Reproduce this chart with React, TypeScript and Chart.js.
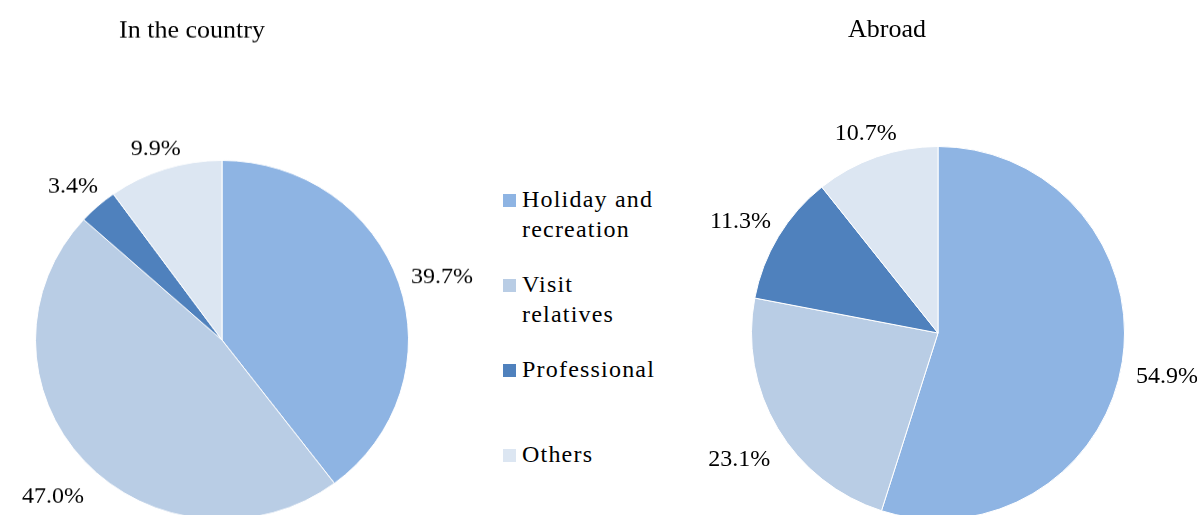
import React, { useEffect, useRef } from "react";
import { Chart, registerables } from "chart.js";

Chart.register(...registerables);

const categories = ["Holiday and recreation", "Visit relatives", "Professional", "Others"];
const countryValues = [39.7, 47.0, 3.4, 9.9];
const abroadValues = [54.9, 23.1, 11.3, 10.7];
const colors = ["#8EB4E3", "#B9CDE5", "#4F81BD", "#DCE6F2"];
const titles = ["In the country", "Abroad"];

const FONT = '"Liberation Serif", "Times New Roman", serif';

const outLabels = {
  id: "outLabels",
  afterDraw(chart: any, _args: any, opts: any) {
    const ctx = chart.ctx;
    const meta = chart.getDatasetMeta(0);
    const data = chart.data.datasets[0].data as number[];
    ctx.save();
    ctx.font = `24px ${FONT}`;
    ctx.fillStyle = "#000";
    ctx.textAlign = "center";
    ctx.textBaseline = "middle";
    meta.data.forEach((arc: any, i: number) => {
      const { x, y, startAngle, endAngle, outerRadius } = arc.getProps(
        ["x", "y", "startAngle", "endAngle", "outerRadius"],
        true
      );
      const a = (startAngle + endAngle) / 2;
      const text = data[i].toFixed(1) + "%";
      const w = ctx.measureText(text).width;
      const off =
        outerRadius + opts.gap + (w / 2) * Math.abs(Math.cos(a)) + 10 * Math.abs(Math.sin(a));
      ctx.fillText(text, x + Math.cos(a) * off, y + Math.sin(a) * off + opts.dy);
    });
    ctx.font = `26px ${FONT}`;
    ctx.textBaseline = "alphabetic";
    ctx.fillText(opts.title, opts.titleX, opts.titleY);
    ctx.restore();
  },
};

type PieProps = {
  values: number[];
  title: string;
  left: number;
  width: number;
  height: number;
  padding: { left: number; right: number; top: number; bottom: number };
  titleX: number;
  titleY: number;
  squash: number;
  originY: number;
};

function Pie({ values, title, left, width, height, padding, titleX, titleY, squash, originY }: PieProps) {
  const ref = useRef<HTMLCanvasElement>(null);
  useEffect(() => {
    if (!ref.current) return;
    const chart = new Chart(ref.current, {
      type: "pie",
      data: {
        labels: categories,
        datasets: [
          {
            data: values,
            backgroundColor: colors,
            borderColor: "#ffffff",
            borderWidth: 1,
            hoverOffset: 0,
          },
        ],
      },
      options: {
        responsive: false,
        animation: false,
        layout: { padding },
        plugins: {
          legend: { display: false },
          tooltip: { enabled: false },
          outLabels: { gap: 13, dy: 8, title, titleX, titleY },
        } as any,
      },
      plugins: [outLabels as any],
    });
    return () => chart.destroy();
  }, []);
  return (
    <canvas
      ref={ref}
      width={width}
      height={height}
      style={{
        position: "absolute",
        left,
        top: 0,
        width,
        height,
        transform: `scaleY(${squash})`,
        transformOrigin: `0px ${originY}px`,
      }}
    />
  );
}

const legendTops = [184, 269, 354, 439];

export default function App() {
  return (
    <div
      style={{
        position: "fixed",
        left: 0,
        top: 0,
        width: 1197,
        height: 515,
        overflow: "hidden",
        background: "#fff",
      }}
    >
      <Pie
        values={countryValues}
        title={titles[0]}
        left={0}
        width={480}
        height={560}
        padding={{ left: 35, right: 71, top: 153, bottom: 33 }}
        titleX={192}
        titleY={25.5}
        squash={0.963}
        originY={340}
      />
      <Pie
        values={abroadValues}
        title={titles[1]}
        left={680}
        width={517}
        height={560}
        padding={{ left: 71, right: 72, top: 146, bottom: 40 }}
        titleX={207}
        titleY={37}
        squash={1}
        originY={333}
      />
      {categories.map((c, i) => (
        <div
          key={c}
          style={{
            position: "absolute",
            left: 503,
            top: legendTops[i],
            display: "flex",
            alignItems: "flex-start",
          }}
        >
          <div
            style={{
              width: 13,
              height: 13,
              marginTop: 9.5,
              background: colors[i],
              flex: "none",
            }}
          />
          <div
            style={{
              marginLeft: 6,
              width: 142,
              fontFamily: FONT,
              fontSize: 24,
              lineHeight: "30px",
              letterSpacing: "1.2px",
              color: "#000",
            }}
          >
            {c}
          </div>
        </div>
      ))}
    </div>
  );
}
